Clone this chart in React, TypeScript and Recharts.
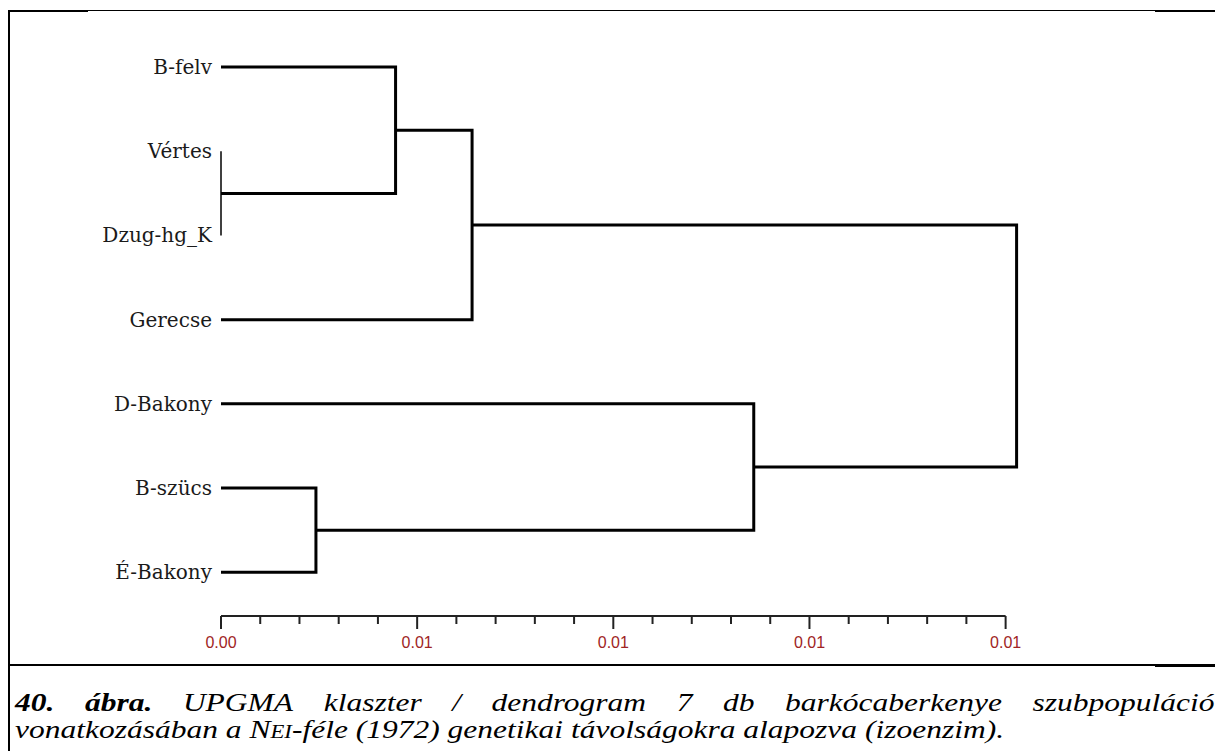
import React from 'react';
import { LineChart, Line, XAxis, YAxis, ReferenceLine } from 'recharts';

// Leaves (top to bottom)
const leafNames = ['B-felv', 'Vértes', 'Dzug-hg_K', 'Gerecse', 'D-Bakony', 'B-szücs', 'É-Bakony'];

// UPGMA merges (m1..m6): child A, child B, joining distance
const mergeA = ['Vértes', 'B-felv', 'm2', 'B-szücs', 'D-Bakony', 'm3'];
const mergeB = ['Dzug-hg_K', 'm1', 'Gerecse', 'É-Bakony', 'm4', 'm5'];
const mergeHeight = [0.0, 0.002225, 0.0032, 0.00121, 0.00679, 0.01014];

// Axis ticks
const xTicks = [
  0, 0.0005, 0.001, 0.0015, 0.002, 0.0025, 0.003, 0.0035, 0.004, 0.0045, 0.005,
  0.0055, 0.006, 0.0065, 0.007, 0.0075, 0.008, 0.0085, 0.009, 0.0095, 0.01,
];
const majorTicks = [0, 0.0025, 0.005, 0.0075, 0.01];
const majorLabels = ['0.00', '0.01', '0.01', '0.01', '0.01'];
const leafTicks = [0, 1, 2, 3, 4, 5, 6];

const captionLine1 = ['40.', 'ábra.', 'UPGMA', 'klaszter', '/', 'dendrogram', '7', 'db', 'barkócaberkenye', 'szubpopuláció'];

const AXIS_Y = 6.52;

function nodeY(name: string): number {
  if (name.startsWith('m')) {
    const i = parseInt(name.slice(1), 10) - 1;
    return (nodeY(mergeA[i]) + nodeY(mergeB[i])) / 2;
  }
  return leafNames.indexOf(name);
}
function nodeH(name: string): number {
  if (name.startsWith('m')) return mergeHeight[parseInt(name.slice(1), 10) - 1];
  return 0;
}

const segments = mergeHeight.map((h, i) => {
  const a = mergeA[i];
  const b = mergeB[i];
  return [
    { x: nodeH(a), y: nodeY(a) },
    { x: h, y: nodeY(a) },
    { x: h, y: nodeY(b) },
    { x: nodeH(b), y: nodeY(b) },
  ];
});

const XTick = (props: any) => {
  const { x, y, payload } = props;
  const v = payload.value as number;
  const mi = majorTicks.findIndex((m) => Math.abs(m - v) < 1e-9);
  const major = mi >= 0;
  return (
    <g>
      <line x1={x} x2={x} y1={y} y2={y + (major ? 13 : 8)} stroke="#222" strokeWidth={2} />
      {major && (
        <text
          x={x}
          y={y + 32}
          textAnchor="middle"
          fill="#a02424"
          style={{ fontSize: 16, fontFamily: "'Liberation Sans', Arial, sans-serif" }}
        >
          {majorLabels[mi]}
        </text>
      )}
    </g>
  );
};

const YTick = (props: any) => {
  const { x, y, payload } = props;
  return (
    <text
      x={x}
      y={y}
      dy={7}
      textAnchor="end"
      fill="#1a1a1a"
      style={{ fontSize: 20, fontFamily: "'DejaVu Serif', serif" }}
    >
      {leafNames[payload.value]}
    </text>
  );
};

export default function App() {
  return (
    <div style={{ position: 'relative', width: 1215, height: 743, background: '#fff', overflow: 'hidden' }}>
      {/* frame lines */}
      <div style={{ position: 'absolute', left: 0, top: 2, width: 1215, height: 1, background: '#000' }} />
      <div style={{ position: 'absolute', left: 0, top: 2, width: 80, height: 2, background: '#000' }} />
      <div style={{ position: 'absolute', left: 1147, top: 2, width: 68, height: 2, background: '#000' }} />
      <div style={{ position: 'absolute', left: 0, top: 2, width: 2, height: 741, background: '#000' }} />
      <div style={{ position: 'absolute', left: 0, top: 656, width: 1215, height: 2, background: '#000' }} />
      <div style={{ position: 'absolute', left: 1147, top: 656, width: 68, height: 3, background: '#000' }} />

      <div style={{ position: 'absolute', left: 0, top: 0 }}>
        <LineChart width={1215} height={655} margin={{ top: 17, right: 186, bottom: 7, left: 0 }}>
          <XAxis
            type="number"
            dataKey="x"
            domain={[0, 0.0104]}
            ticks={xTicks}
            interval={0}
            axisLine={false}
            tickLine={false}
            tickSize={0}
            tickMargin={0}
            height={40}
            tick={<XTick />}
          />
          <YAxis
            type="number"
            dataKey="y"
            domain={[-0.5, AXIS_Y]}
            reversed
            ticks={leafTicks}
            interval={0}
            axisLine={false}
            tickLine={false}
            tickSize={0}
            tickMargin={9}
            width={213}
            tick={<YTick />}
          />
          <ReferenceLine
            segment={[
              { x: majorTicks[0], y: AXIS_Y },
              { x: majorTicks[majorTicks.length - 1], y: AXIS_Y },
            ]}
            stroke="#222"
            strokeWidth={2}
            ifOverflow="visible"
          />
          {segments.map((seg, i) => (
            <Line
              key={i}
              data={seg}
              dataKey="y"
              type="linear"
              stroke="#000"
              strokeWidth={mergeHeight[i] === 0 ? 1.5 : 3}
              dot={false}
              activeDot={false}
              isAnimationActive={false}
            />
          ))}
        </LineChart>
      </div>

      {/* caption */}
      <div
        style={{
          position: 'absolute',
          left: 7,
          top: 681,
          width: 952,
          transform: 'scaleX(1.26)',
          transformOrigin: '0 0',
          fontFamily: "'Liberation Serif', 'Times New Roman', serif",
          fontStyle: 'italic',
          fontSize: 25,
          lineHeight: '27px',
          color: '#000',
          whiteSpace: 'nowrap',
        }}
      >
        <div style={{ display: 'flex', justifyContent: 'space-between' }}>
          {captionLine1.map((w, i) => (
            <span key={i} style={{ fontWeight: i < 2 ? 700 : 400 }}>
              {w}
            </span>
          ))}
        </div>
        <div>
          vonatkozásában a <span style={{ fontVariant: 'small-caps' }}>Nei</span>-féle (1972) genetikai távolságokra
          alapozva (izoenzim).
        </div>
      </div>
    </div>
  );
}
